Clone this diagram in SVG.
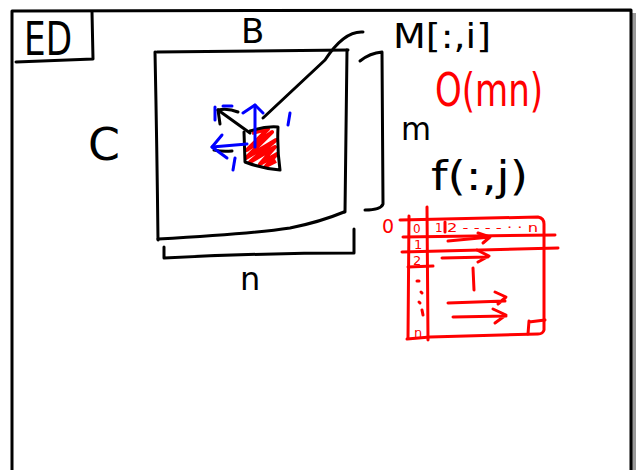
<svg xmlns="http://www.w3.org/2000/svg" width="639" height="470" viewBox="0 0 639 470">
<style>
.k{fill:none;stroke:#000;stroke-width:3;stroke-linecap:round;stroke-linejoin:round}
.r{fill:none;stroke:#f00;stroke-width:3;stroke-linecap:round;stroke-linejoin:round}
.b{fill:none;stroke:#00f;stroke-width:3;stroke-linecap:round;stroke-linejoin:round}
.t{font-family:"DejaVu Sans","Liberation Sans",sans-serif;fill:#000}
.tr{font-family:"DejaVu Sans","Liberation Sans",sans-serif;fill:#f00}
</style>
<rect width="639" height="470" fill="#fff"/>
<g id="frame">
<rect x="632" y="13" width="4" height="457" fill="#999"/>
<path class="k" d="M12,470 L12,11 L631,10 L631,470"/>
<path class="k" d="M92,12 L93,59 L16,62"/>
<text class="t" x="24" y="55" font-size="46" textLength="48" lengthAdjust="spacingAndGlyphs">ED</text>
</g>
<g id="matrix">
<path class="k" d="M155,52 Q157,150 158,240"/>
<path class="k" d="M157,52 L348,50"/>
<path class="k" d="M347,50 L345,212"/>
<path class="k" d="M158,239 Q250,234 290,228 Q320,222 344,212"/>
<path class="k" d="M164,247 L164,258 Q260,253 354,253 L354,229"/>
<path class="k" d="M360,61 Q370,53 382,52 L383,204 Q381,210 365,210"/>
<text class="t" x="241" y="43" font-size="34">B</text>
<text class="t" x="88" y="160" font-size="44" textLength="32" lengthAdjust="spacingAndGlyphs">C</text>
<text class="t" x="240" y="290" font-size="32">n</text>
<text class="t" x="401" y="140" font-size="32" textLength="30" lengthAdjust="spacingAndGlyphs">m</text>
</g>
<g id="label-M">
<text class="t" x="393" y="48" font-size="34" textLength="98" lengthAdjust="spacingAndGlyphs">M[:,i]</text>
<path class="k" d="M363,32 C350,31 338,40 325,60 L263,118"/>
</g>
<g id="complexity">
<text class="tr" x="435" y="106" font-size="46" textLength="108" lengthAdjust="spacingAndGlyphs">O(mn)</text>
</g>
<g id="element">
<path d="M252,133 L268,129 L247,150 L272,132 L246,158 L276,140 L250,162 L275,147 L260,164 L277,154 L266,166 L276,161" fill="none" stroke="#f00" stroke-width="4" stroke-linejoin="round"/>
<path class="k" d="M218,110 L250,133"/>
<path class="k" d="M218,110 Q228,108 238,112"/>
<path class="k" d="M218,110 L220,124"/>
<path class="k" d="M250,131 Q265,126 278,127 Q277,150 280,170 Q260,168 245,162 L244,132"/>
<path class="k" d="M214,150 Q222,152 232,151"/>
<path class="b" d="M255,147 L255,105"/>
<path class="b" d="M243,113 L255,105 L263,113"/>
<path class="b" d="M247,144 L212,147"/>
<path class="b" d="M222,135 L212,147 L227,158"/>
<path class="b" d="M215,107 L215,120"/>
<path class="b" d="M223,106 L232,106"/>
<path class="b" d="M290,113 L288,125"/>
<path class="b" d="M235,158 L233,170"/>
</g>
<g id="label-f">
<text class="t" x="431" y="190" font-size="40" textLength="97" lengthAdjust="spacingAndGlyphs">f(:,j)</text>
</g>
<g id="grid">
<text class="tr" x="382" y="233" font-size="19">0</text>
<path class="r" d="M400,220 L538,217 Q544,218 544,224 L544,330 Q543,334 538,334 L430,337 L407,339"/>
<path class="r" d="M409,216 L408,338"/>
<path class="r" d="M427,207 L428,340"/>
<path class="r" d="M403,237 L555,235"/>
<path class="r" d="M402,252 L558,248"/>
<path class="r" d="M408,267 L433,266"/>
<path class="r" d="M529,321 L528,334 M529,322 L545,320"/>
<text class="tr" x="413" y="233" font-size="12">0</text>
<text class="tr" x="435" y="232" font-size="12">1</text>
<path class="r" d="M445,222 L445,232"/>
<text class="tr" x="447" y="232" font-size="12" textLength="91" lengthAdjust="spacingAndGlyphs">2 - -  - - · · n</text>
<text class="tr" x="414" y="249" font-size="13">1</text>
<text class="tr" x="413" y="265" font-size="13">2</text>
<path class="r" d="M417,281 L419,281 M421,292 L422,293 M419,302 L420,303 M422,310 L423,315"/>
<text class="tr" x="414" y="337" font-size="13">n</text>
<path class="r" d="M448,241 L490,237 M478,233 L490,237 L483,243"/>
<path class="r" d="M442,258 L488,257 M477,250 L489,256 L478,262"/>
<path class="r" d="M473,268 L474,290"/>
<path class="r" d="M448,303 L505,301 M495,292 L506,297 L498,304"/>
<path class="r" d="M453,317 L506,316 M493,309 L506,315 L495,323"/>
</g>
</svg>
